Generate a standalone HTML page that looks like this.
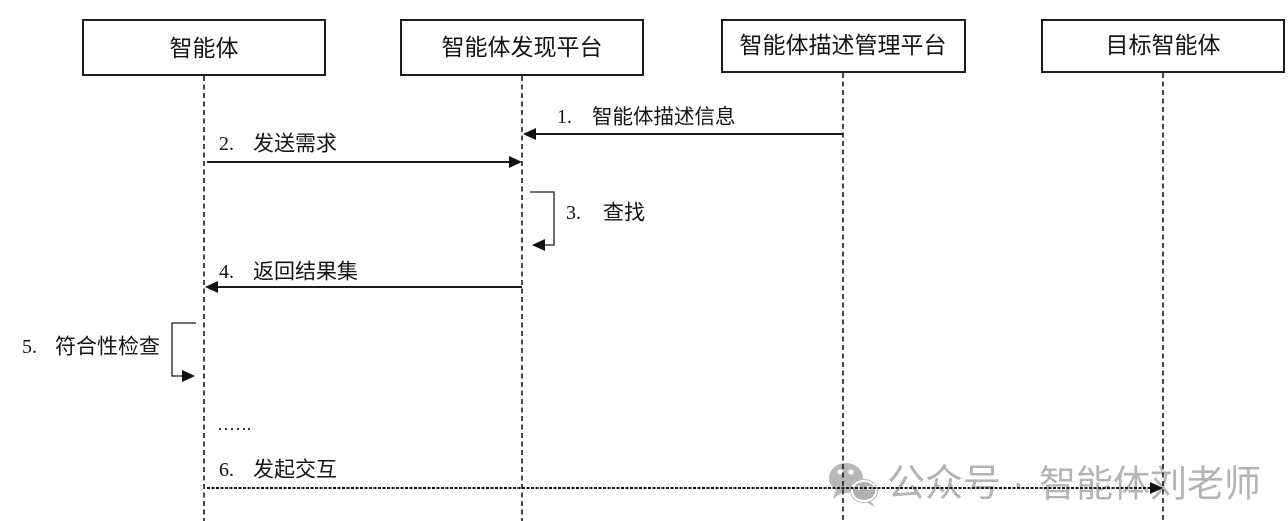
<!DOCTYPE html>
<html>
<head>
<meta charset="utf-8">
<style>
  html, body { margin: 0; padding: 0; background: #ffffff; }
  body { width: 1288px; height: 521px; overflow: hidden; }
  svg { display: block; }
  .t { font-family: "Liberation Serif", "Noto Sans CJK SC", serif; fill: #141414; }
  .c { font-family: "Liberation Sans", "Noto Sans CJK SC", sans-serif; fill: #141414; }
  .wm { font-family: "Liberation Sans", "Noto Sans CJK SC", sans-serif; fill: #b4b4b4; }
</style>
</head>
<body>
<svg width="1288" height="521" viewBox="0 0 1288 521" xmlns="http://www.w3.org/2000/svg">
  <rect x="0" y="0" width="1288" height="521" fill="#ffffff"/>

  <!-- watermark -->
  <g fill="#b8b8b8">
    <ellipse cx="846" cy="478" rx="17" ry="15"/>
    <ellipse cx="864" cy="491" rx="14" ry="12"/>
    <path d="M836 489 L833 499 L843 492 Z"/>
    <path d="M870 500 L875 507 L866 502 Z"/>
  </g>
  <g fill="#ffffff">
    <circle cx="840" cy="472" r="2.6"/>
    <circle cx="851" cy="472" r="2.6"/>
    <ellipse cx="864" cy="491" rx="12" ry="10" fill="#b0b0b0" stroke="#ffffff" stroke-width="2"/>
    <circle cx="859" cy="488" r="2"/>
    <circle cx="869" cy="488" r="2"/>
  </g>
  <text class="wm" x="887" y="484" font-size="38" dominant-baseline="central">公众号</text>
  <text class="wm" x="1012" y="484" font-size="38" dominant-baseline="central">·</text>
  <text class="wm" x="1039" y="484" font-size="37" dominant-baseline="central">智能体刘老师</text>

  <!-- boxes -->
  <g fill="#ffffff" stroke="#1e1e1e" stroke-width="2">
    <rect x="83" y="20" width="242" height="55"/>
    <rect x="401" y="20" width="242" height="55"/>
    <rect x="722" y="20" width="243" height="52"/>
    <rect x="1042" y="20" width="242" height="52"/>
  </g>
  <g class="c" font-size="23" text-anchor="middle">
    <text x="204" y="48" dominant-baseline="central">智能体</text>
    <text x="522" y="47" dominant-baseline="central">智能体发现平台</text>
    <text x="843" y="45" dominant-baseline="central">智能体描述管理平台</text>
    <text x="1163" y="45" dominant-baseline="central">目标智能体</text>
  </g>

  <!-- lifelines -->
  <g stroke="#1a1a1a" stroke-width="1.6" stroke-dasharray="5 3.5" fill="none">
    <line x1="204" y1="76" x2="204" y2="521"/>
    <line x1="522" y1="76" x2="522" y2="521"/>
    <line x1="843" y1="73" x2="843" y2="521"/>
    <line x1="1163" y1="73" x2="1163" y2="521"/>
  </g>

  <!-- 1. -->
  <line x1="843" y1="134" x2="534" y2="134" stroke="#1a1a1a" stroke-width="2"/>
  <polygon points="523,134 536,128 536,140" fill="#111"/>
  <text class="t" x="557" y="117" font-size="20" dominant-baseline="central">1.</text>
  <text class="c" x="592" y="117" font-size="20.5" dominant-baseline="central">智能体描述信息</text>

  <!-- 2. -->
  <line x1="207" y1="162" x2="512" y2="162" stroke="#1a1a1a" stroke-width="2"/>
  <polygon points="522,162 509,156 509,168" fill="#111"/>
  <text class="t" x="219" y="144" font-size="20" dominant-baseline="central">2.</text>
  <text class="c" x="253" y="144" font-size="21" dominant-baseline="central">发送需求</text>

  <!-- 3. self loop -->
  <polyline points="530,192 554,192 554,245 543,245" fill="none" stroke="#1a1a1a" stroke-width="1.3"/>
  <polygon points="532,245 545,239 545,251" fill="#111"/>
  <text class="t" x="566" y="213" font-size="20" dominant-baseline="central">3.</text>
  <text class="c" x="603" y="213" font-size="21" dominant-baseline="central">查找</text>

  <!-- 4. -->
  <line x1="522" y1="287" x2="215" y2="287" stroke="#1a1a1a" stroke-width="2"/>
  <polygon points="205,287 218,281 218,293" fill="#111"/>
  <text class="t" x="219" y="272" font-size="20" dominant-baseline="central">4.</text>
  <text class="c" x="253" y="272" font-size="21" dominant-baseline="central">返回结果集</text>

  <!-- 5. self loop -->
  <polyline points="196,323 172,323 172,376 184,376" fill="none" stroke="#1a1a1a" stroke-width="1.3"/>
  <polygon points="195,376 182,370 182,382" fill="#111"/>
  <text class="t" x="22" y="347" font-size="20" dominant-baseline="central">5.</text>
  <text class="c" x="55" y="347" font-size="21" dominant-baseline="central">符合性检查</text>

  <!-- dots -->
  <g fill="#222">
    <circle cx="220" cy="429" r="1.1"/>
    <circle cx="226" cy="429" r="1.1"/>
    <circle cx="232" cy="429" r="1.1"/>
    <circle cx="238" cy="429" r="1.1"/>
    <circle cx="244" cy="429" r="1.1"/>
    <circle cx="249" cy="429" r="1.1"/>
  </g>

  <!-- 6. -->
  <line x1="207" y1="488" x2="1152" y2="488" stroke="#1a1a1a" stroke-width="2" stroke-dasharray="3 1.5"/>
  <polygon points="1163,488 1150,482 1150,494" fill="#111"/>
  <text class="t" x="219" y="470" font-size="20" dominant-baseline="central">6.</text>
  <text class="c" x="253" y="470" font-size="21" dominant-baseline="central">发起交互</text>
</svg>
</body>
</html>
